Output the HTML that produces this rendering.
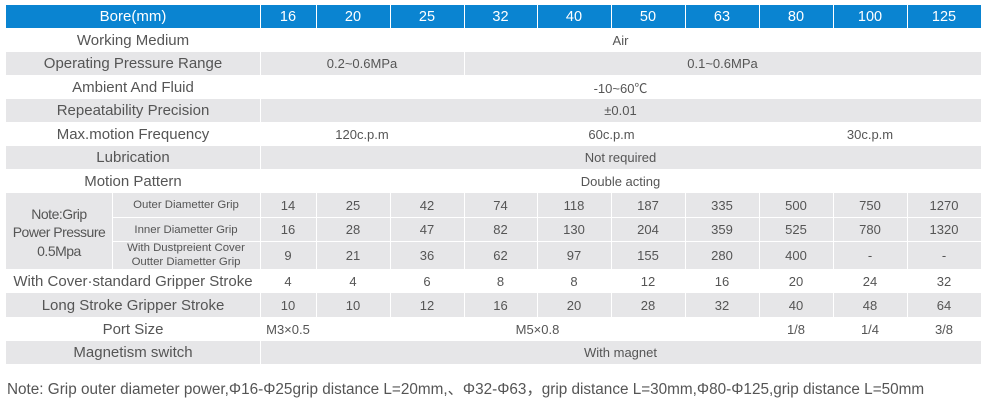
<!DOCTYPE html>
<html>
<head>
<meta charset="utf-8">
<style>
html,body{margin:0;padding:0;background:#fff;}
body{width:992px;height:403px;position:relative;overflow:hidden;font-family:"Liberation Sans","Noto Sans CJK SC",Arial,sans-serif;}
.t{position:absolute;display:flex;align-items:center;justify-content:center;white-space:nowrap;text-align:center;}
.lb{font-size:15px;color:#555;}
.d{font-size:13px;color:#555;}
.hd{font-size:14.5px;color:#fff;}
.g{position:absolute;background:#e6e6e8;}
.b{position:absolute;background:#0a84d1;}
.v{position:absolute;width:1px;background:#fff;}
.h{position:absolute;height:1px;background:#fff;}
</style>
</head>
<body>

<!-- Header -->
<div class="b" style="left:6px;top:5px;width:975px;height:23px;"></div>
<div class="v" style="left:260px;top:5px;height:23px;"></div>
<div class="v" style="left:316px;top:5px;height:23px;"></div>
<div class="v" style="left:390px;top:5px;height:23px;"></div>
<div class="v" style="left:464px;top:5px;height:23px;"></div>
<div class="v" style="left:537px;top:5px;height:23px;"></div>
<div class="v" style="left:611px;top:5px;height:23px;"></div>
<div class="v" style="left:685px;top:5px;height:23px;"></div>
<div class="v" style="left:759px;top:5px;height:23px;"></div>
<div class="v" style="left:833px;top:5px;height:23px;"></div>
<div class="v" style="left:907px;top:5px;height:23px;"></div>
<div class="t hd" style="left:6px;top:5px;width:254px;height:23px;font-size:15px;">Bore(mm)</div>
<div class="t hd" style="left:260px;top:5px;width:56px;height:23px;">16</div>
<div class="t hd" style="left:316px;top:5px;width:74px;height:23px;">20</div>
<div class="t hd" style="left:390px;top:5px;width:74px;height:23px;">25</div>
<div class="t hd" style="left:464px;top:5px;width:73px;height:23px;">32</div>
<div class="t hd" style="left:537px;top:5px;width:74px;height:23px;">40</div>
<div class="t hd" style="left:611px;top:5px;width:74px;height:23px;">50</div>
<div class="t hd" style="left:685px;top:5px;width:74px;height:23px;">63</div>
<div class="t hd" style="left:759px;top:5px;width:74px;height:23px;">80</div>
<div class="t hd" style="left:833px;top:5px;width:74px;height:23px;">100</div>
<div class="t hd" style="left:907px;top:5px;width:74px;height:23px;">125</div>

<!-- Working Medium -->
<div class="t lb" style="left:6px;top:28px;width:254px;height:24px;">Working Medium</div>
<div class="t d" style="left:260px;top:28px;width:721px;height:24px;">Air</div>

<!-- Operating Pressure Range -->
<div class="g" style="left:6px;top:52px;width:975px;height:23px;"></div>
<div class="v" style="left:260px;top:52px;height:23px;"></div>
<div class="v" style="left:464px;top:52px;height:23px;"></div>
<div class="t lb" style="left:6px;top:52px;width:254px;height:23px;">Operating Pressure Range</div>
<div class="t d" style="left:260px;top:52px;width:204px;height:23px;">0.2~0.6MPa</div>
<div class="t d" style="left:464px;top:52px;width:517px;height:23px;">0.1~0.6MPa</div>

<!-- Ambient -->
<div class="t lb" style="left:6px;top:75px;width:254px;height:24px;">Ambient And Fluid</div>
<div class="t d" style="left:260px;top:75px;width:721px;height:24px;">-10~60℃</div>

<!-- Repeatability -->
<div class="g" style="left:6px;top:99px;width:975px;height:23px;"></div>
<div class="v" style="left:260px;top:99px;height:23px;"></div>
<div class="t lb" style="left:6px;top:99px;width:254px;height:23px;">Repeatability Precision</div>
<div class="t d" style="left:260px;top:99px;width:721px;height:23px;">±0.01</div>

<!-- Max motion frequency -->
<div class="t lb" style="left:6px;top:122px;width:254px;height:24px;">Max.motion Frequency</div>
<div class="t d" style="left:260px;top:122px;width:204px;height:24px;">120c.p.m</div>
<div class="t d" style="left:464px;top:122px;width:295px;height:24px;">60c.p.m</div>
<div class="t d" style="left:759px;top:122px;width:222px;height:24px;">30c.p.m</div>

<!-- Lubrication -->
<div class="g" style="left:6px;top:146px;width:975px;height:23px;"></div>
<div class="v" style="left:260px;top:146px;height:23px;"></div>
<div class="t lb" style="left:6px;top:146px;width:254px;height:23px;">Lubrication</div>
<div class="t d" style="left:260px;top:146px;width:721px;height:23px;">Not required</div>

<!-- Motion Pattern -->
<div class="t lb" style="left:6px;top:169px;width:254px;height:24px;">Motion Pattern</div>
<div class="t d" style="left:260px;top:169px;width:721px;height:24px;">Double acting</div>

<!-- Grip block -->
<div class="g" style="left:6px;top:193px;width:975px;height:76px;"></div>
<div class="v" style="left:112px;top:193px;height:76px;"></div>
<div class="v" style="left:260px;top:193px;height:76px;"></div>
<div class="v" style="left:316px;top:193px;height:76px;"></div>
<div class="v" style="left:390px;top:193px;height:76px;"></div>
<div class="v" style="left:464px;top:193px;height:76px;"></div>
<div class="v" style="left:537px;top:193px;height:76px;"></div>
<div class="v" style="left:611px;top:193px;height:76px;"></div>
<div class="v" style="left:685px;top:193px;height:76px;"></div>
<div class="v" style="left:759px;top:193px;height:76px;"></div>
<div class="v" style="left:833px;top:193px;height:76px;"></div>
<div class="v" style="left:907px;top:193px;height:76px;"></div>
<div class="h" style="left:112px;top:217px;width:869px;"></div>
<div class="h" style="left:112px;top:241px;width:869px;"></div>
<div class="t" style="left:6px;top:196px;width:106px;height:73px;font-size:14px;letter-spacing:-0.5px;line-height:18.5px;color:#555;white-space:normal;">Note:Grip<br>Power Pressure<br>0.5Mpa</div>
<div class="t" style="left:112px;top:193px;width:148px;height:24px;font-size:11.4px;color:#555;">Outer Diametter Grip</div>
<div class="t" style="left:112px;top:218px;width:148px;height:23px;font-size:11.4px;color:#555;">Inner Diametter Grip</div>
<div class="t" style="left:112px;top:242px;width:148px;height:27px;font-size:11.4px;line-height:13.5px;color:#555;white-space:normal;">With Dustpreient Cover<br>Outter Diametter Grip</div>

<!-- Outer row -->
<div class="t d" style="left:260px;top:193px;width:56px;height:24px;">14</div>
<div class="t d" style="left:316px;top:193px;width:74px;height:24px;">25</div>
<div class="t d" style="left:390px;top:193px;width:74px;height:24px;">42</div>
<div class="t d" style="left:464px;top:193px;width:73px;height:24px;">74</div>
<div class="t d" style="left:537px;top:193px;width:74px;height:24px;">118</div>
<div class="t d" style="left:611px;top:193px;width:74px;height:24px;">187</div>
<div class="t d" style="left:685px;top:193px;width:74px;height:24px;">335</div>
<div class="t d" style="left:759px;top:193px;width:74px;height:24px;">500</div>
<div class="t d" style="left:833px;top:193px;width:74px;height:24px;">750</div>
<div class="t d" style="left:907px;top:193px;width:74px;height:24px;">1270</div>
<!-- Inner row -->
<div class="t d" style="left:260px;top:218px;width:56px;height:23px;">16</div>
<div class="t d" style="left:316px;top:218px;width:74px;height:23px;">28</div>
<div class="t d" style="left:390px;top:218px;width:74px;height:23px;">47</div>
<div class="t d" style="left:464px;top:218px;width:73px;height:23px;">82</div>
<div class="t d" style="left:537px;top:218px;width:74px;height:23px;">130</div>
<div class="t d" style="left:611px;top:218px;width:74px;height:23px;">204</div>
<div class="t d" style="left:685px;top:218px;width:74px;height:23px;">359</div>
<div class="t d" style="left:759px;top:218px;width:74px;height:23px;">525</div>
<div class="t d" style="left:833px;top:218px;width:74px;height:23px;">780</div>
<div class="t d" style="left:907px;top:218px;width:74px;height:23px;">1320</div>
<!-- Dust row -->
<div class="t d" style="left:260px;top:242px;width:56px;height:27px;">9</div>
<div class="t d" style="left:316px;top:242px;width:74px;height:27px;">21</div>
<div class="t d" style="left:390px;top:242px;width:74px;height:27px;">36</div>
<div class="t d" style="left:464px;top:242px;width:73px;height:27px;">62</div>
<div class="t d" style="left:537px;top:242px;width:74px;height:27px;">97</div>
<div class="t d" style="left:611px;top:242px;width:74px;height:27px;">155</div>
<div class="t d" style="left:685px;top:242px;width:74px;height:27px;">280</div>
<div class="t d" style="left:759px;top:242px;width:74px;height:27px;">400</div>
<div class="t d" style="left:833px;top:242px;width:74px;height:27px;">-</div>
<div class="t d" style="left:907px;top:242px;width:74px;height:27px;">-</div>

<!-- With Cover -->
<div class="t lb" style="left:6px;top:269px;width:254px;height:24px;">With Cover·standard Gripper Stroke</div>
<div class="t d" style="left:260px;top:269px;width:56px;height:24px;">4</div>
<div class="t d" style="left:316px;top:269px;width:74px;height:24px;">4</div>
<div class="t d" style="left:390px;top:269px;width:74px;height:24px;">6</div>
<div class="t d" style="left:464px;top:269px;width:73px;height:24px;">8</div>
<div class="t d" style="left:537px;top:269px;width:74px;height:24px;">8</div>
<div class="t d" style="left:611px;top:269px;width:74px;height:24px;">12</div>
<div class="t d" style="left:685px;top:269px;width:74px;height:24px;">16</div>
<div class="t d" style="left:759px;top:269px;width:74px;height:24px;">20</div>
<div class="t d" style="left:833px;top:269px;width:74px;height:24px;">24</div>
<div class="t d" style="left:907px;top:269px;width:74px;height:24px;">32</div>

<!-- Long Stroke -->
<div class="g" style="left:6px;top:293px;width:975px;height:24px;"></div>
<div class="v" style="left:260px;top:293px;height:24px;"></div>
<div class="v" style="left:316px;top:293px;height:24px;"></div>
<div class="v" style="left:390px;top:293px;height:24px;"></div>
<div class="v" style="left:464px;top:293px;height:24px;"></div>
<div class="v" style="left:537px;top:293px;height:24px;"></div>
<div class="v" style="left:611px;top:293px;height:24px;"></div>
<div class="v" style="left:685px;top:293px;height:24px;"></div>
<div class="v" style="left:759px;top:293px;height:24px;"></div>
<div class="v" style="left:833px;top:293px;height:24px;"></div>
<div class="v" style="left:907px;top:293px;height:24px;"></div>
<div class="t lb" style="left:6px;top:293px;width:254px;height:24px;">Long Stroke Gripper Stroke</div>
<div class="t d" style="left:260px;top:293px;width:56px;height:24px;">10</div>
<div class="t d" style="left:316px;top:293px;width:74px;height:24px;">10</div>
<div class="t d" style="left:390px;top:293px;width:74px;height:24px;">12</div>
<div class="t d" style="left:464px;top:293px;width:73px;height:24px;">16</div>
<div class="t d" style="left:537px;top:293px;width:74px;height:24px;">20</div>
<div class="t d" style="left:611px;top:293px;width:74px;height:24px;">28</div>
<div class="t d" style="left:685px;top:293px;width:74px;height:24px;">32</div>
<div class="t d" style="left:759px;top:293px;width:74px;height:24px;">40</div>
<div class="t d" style="left:833px;top:293px;width:74px;height:24px;">48</div>
<div class="t d" style="left:907px;top:293px;width:74px;height:24px;">64</div>

<!-- Port Size -->
<div class="t lb" style="left:6px;top:317px;width:254px;height:24px;">Port Size</div>
<div class="t d" style="left:260px;top:317px;width:56px;height:24px;">M3×0.5</div>
<div class="t d" style="left:316px;top:317px;width:443px;height:24px;">M5×0.8</div>
<div class="t d" style="left:759px;top:317px;width:74px;height:24px;">1/8</div>
<div class="t d" style="left:833px;top:317px;width:74px;height:24px;">1/4</div>
<div class="t d" style="left:907px;top:317px;width:74px;height:24px;">3/8</div>

<!-- Magnetism -->
<div class="g" style="left:6px;top:341px;width:975px;height:23px;"></div>
<div class="v" style="left:260px;top:341px;height:23px;"></div>
<div class="t lb" style="left:6px;top:341px;width:254px;height:23px;">Magnetism switch</div>
<div class="t d" style="left:260px;top:341px;width:721px;height:23px;">With magnet</div>

<!-- Footnote -->
<div style="position:absolute;left:7px;top:380px;height:20px;line-height:20px;font-size:15.3px;color:#555;white-space:nowrap;font-family:'Liberation Sans','Noto Sans CJK SC',sans-serif;">Note: Grip outer diameter power,Φ16-Φ25grip distance L=20mm,、Φ32-Φ63，grip distance L=30mm,Φ80-Φ125,grip distance L=50mm</div>

</body>
</html>
